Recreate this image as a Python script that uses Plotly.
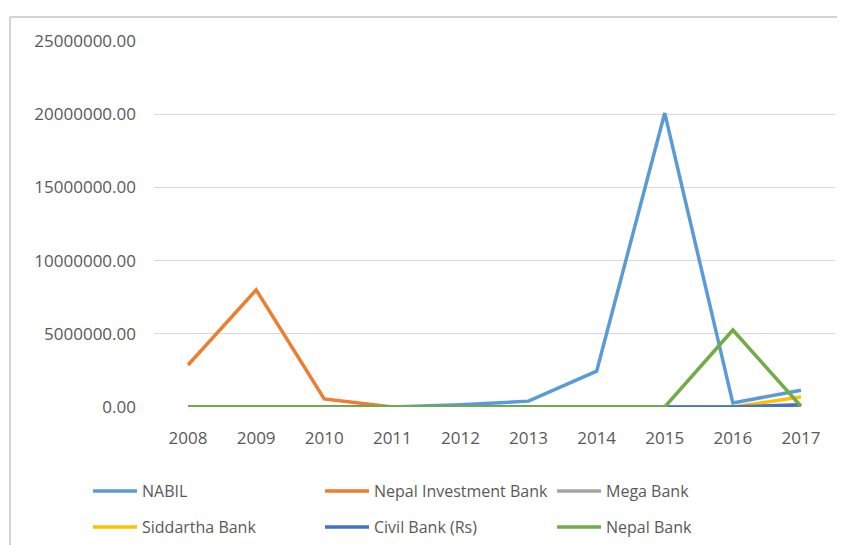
import plotly.graph_objects as go

years = ["2008", "2009", "2010", "2011", "2012", "2013", "2014", "2015", "2016", "2017"]
nabil = [0, 0, 0, 0, 150000, 400000, 2450000, 20080000, 270000, 1150000]
nepal_investment = [2870000, 8000000, 550000, 0, 0, 0, 0, 0, 0, 0]
mega = [0, 0, 0, 0, 0, 0, 0, 0, 0, 0]
siddartha = [0, 0, 0, 0, 0, 0, 0, 0, 0, 680000]
civil = [0, 0, 0, 0, 0, 0, 0, 0, 0, 150000]
nepal_bank = [0, 0, 0, 0, 0, 0, 0, 0, 5260000, 50000]
y_ticks = [0, 5000000, 10000000, 15000000, 20000000, 25000000]

series = [
    ("NABIL", nabil, "#5B9BD5", "legend"),
    ("Nepal Investment Bank", nepal_investment, "#ED7D31", "legend"),
    ("Mega Bank", mega, "#A5A5A5", "legend"),
    ("Siddartha Bank", siddartha, "#FFC000", "legend2"),
    ("Civil Bank (Rs)", civil, "#4472C4", "legend2"),
    ("Nepal Bank", nepal_bank, "#70AD47", "legend2"),
]

FONT = "Open Sans"
GREY = "#595959"

fig = go.Figure()
for name, vals, color, lg in series:
    fig.add_trace(go.Scatter(x=years, y=vals, name=name, mode="lines",
                             line=dict(color=color, width=3.5), legend=lg))

# page has an 8px body margin; figure coordinates are page coordinates - 8
W, H = 837, 537
L, R, T, B = 146, 10, 33, 138
pw = W - L - R
ph = H - T - B

def px_x(p):
    return (p - L) / pw

def px_y(p):
    return (H - B - p) / ph

legend_common = dict(orientation="h", xanchor="left", yanchor="middle",
                     entrywidth=173, entrywidthmode="pixels",
                     font=dict(family=FONT, size=16, color=GREY),
                     traceorder="normal", itemwidth=44,
                     bgcolor="rgba(0,0,0,0)")

fig.update_layout(
    width=W, height=H,
    margin=dict(l=L, r=R, t=T, b=B, pad=0, autoexpand=False),
    paper_bgcolor="white", plot_bgcolor="white",
    font=dict(family=FONT, color=GREY, size=16),
    showlegend=True,
    legend=dict(x=px_x(80), y=px_y(483), **legend_common),
    legend2=dict(x=px_x(80), y=px_y(519), **legend_common),
    xaxis=dict(type="category", showgrid=False, showline=False, ticks="",
               tickfont=dict(size=17, color=GREY), ticklabelstandoff=19,
               zeroline=False, range=[-0.5, 9.5]),
    yaxis=dict(range=[0, 25000000], tickvals=y_ticks,
               ticktext=[f"{v:.2f}" for v in y_ticks],
               showgrid=True, gridcolor="#D9D9D9", gridwidth=1,
               zeroline=False, showline=False, ticks="",
               tickfont=dict(size=17, color=GREY), ticklabelstandoff=17),
)

fig.add_shape(type="line", xref="paper", yref="paper",
              x0=px_x(2), x1=px_x(W + 5), y0=px_y(9), y1=px_y(9),
              line=dict(color="#D4D4D4", width=2))
fig.add_shape(type="line", xref="paper", yref="paper",
              x0=px_x(2), x1=px_x(2), y0=px_y(9), y1=px_y(H + 5),
              line=dict(color="#D4D4D4", width=2))

fig.write_html("out.html")
